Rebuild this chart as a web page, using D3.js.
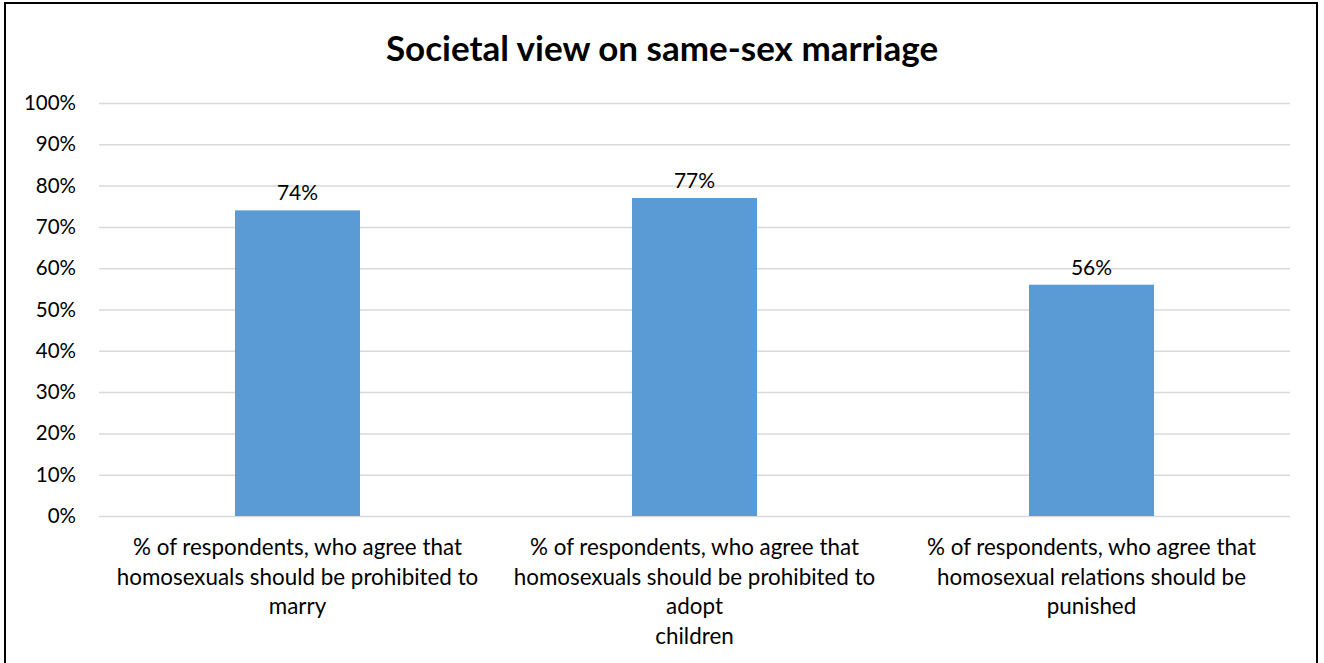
<!DOCTYPE html>
<html>
<head>
<meta charset="utf-8">
<script src="https://cdn.jsdelivr.net/npm/d3@7"></script>
<style>
  html, body { margin: 0; padding: 0; background: #fff; }
  svg { display: block; }
  text { font-family: Lato, "Open Sans", "Liberation Sans", sans-serif; fill: #000; }
</style>
</head>
<body>
<svg id="chart" width="1324" height="663"></svg>
<script>
// Chart data
const title = "Societal view on same-sex marriage";
const categories = ["marry", "adopt", "punished"];
const categoryLines = [
  ["% of respondents, who agree that", "homosexuals should be prohibited to", "marry"],
  ["% of respondents, who agree that", "homosexuals should be prohibited to", "adopt", "children"],
  ["% of respondents, who agree that", "homosexual relations should be", "punished"]
];
const values = [74, 77, 56];
const yTicks = [0, 10, 20, 30, 40, 50, 60, 70, 80, 90, 100];

const svg = d3.select("#chart");
const plot = { left: 99, right: 1290, top: 103, bottom: 516 };

// Outer chart frame
svg.append("rect")
  .attr("x", 5).attr("y", 3)
  .attr("width", 1312).attr("height", 680)
  .attr("fill", "#fff")
  .attr("stroke", "#000").attr("stroke-width", 2);

svg.append("text")
  .attr("x", 662).attr("y", 61)
  .attr("text-anchor", "middle")
  .style("font-size", "35px").style("font-weight", "bold")
  .text(title);

const x = d3.scaleBand()
  .domain(categories)
  .range([plot.left, plot.right])
  .paddingInner(0.685)
  .paddingOuter(0.3425);

const y = d3.scaleLinear().domain([0, 100]).range([plot.bottom, plot.top]);

// Gridlines and y tick labels
const yAxis = d3.axisLeft(y)
  .tickValues(yTicks)
  .tickSize(-(plot.right - plot.left))
  .tickPadding(23)
  .tickFormat(d => d + "%");

const gy = svg.append("g")
  .attr("transform", `translate(${plot.left},0)`)
  .call(yAxis);
gy.select(".domain").remove();
gy.selectAll(".tick line").attr("stroke", "#d9d9d9").attr("stroke-width", 1.5);
gy.selectAll(".tick text")
  .style("font-size", "20.5px")
  .attr("fill", "#000");

// Bars
svg.append("g").selectAll("rect")
  .data(values)
  .join("rect")
  .attr("x", (d, i) => x(categories[i]))
  .attr("y", d => y(d))
  .attr("width", x.bandwidth())
  .attr("height", d => y(0) - y(d))
  .attr("fill", "#5b9bd5");

// Value labels
svg.append("g").selectAll("text")
  .data(values)
  .join("text")
  .attr("x", (d, i) => x(categories[i]) + x.bandwidth() / 2)
  .attr("y", d => y(d) - 10)
  .attr("text-anchor", "middle")
  .style("font-size", "21px")
  .text(d => d + "%");

// Category labels (wrapped lines)
const cat = svg.append("g").selectAll("text")
  .data(categoryLines)
  .join("text")
  .attr("text-anchor", "middle")
  .style("font-size", "22.4px")
  .attr("transform", (d, i) => `translate(${x(categories[i]) + x.bandwidth() / 2},555)`);
cat.selectAll("tspan")
  .data(d => d)
  .join("tspan")
  .attr("x", 0)
  .attr("y", (d, j) => j * 29.5)
  .text(d => d);
</script>
</body>
</html>
